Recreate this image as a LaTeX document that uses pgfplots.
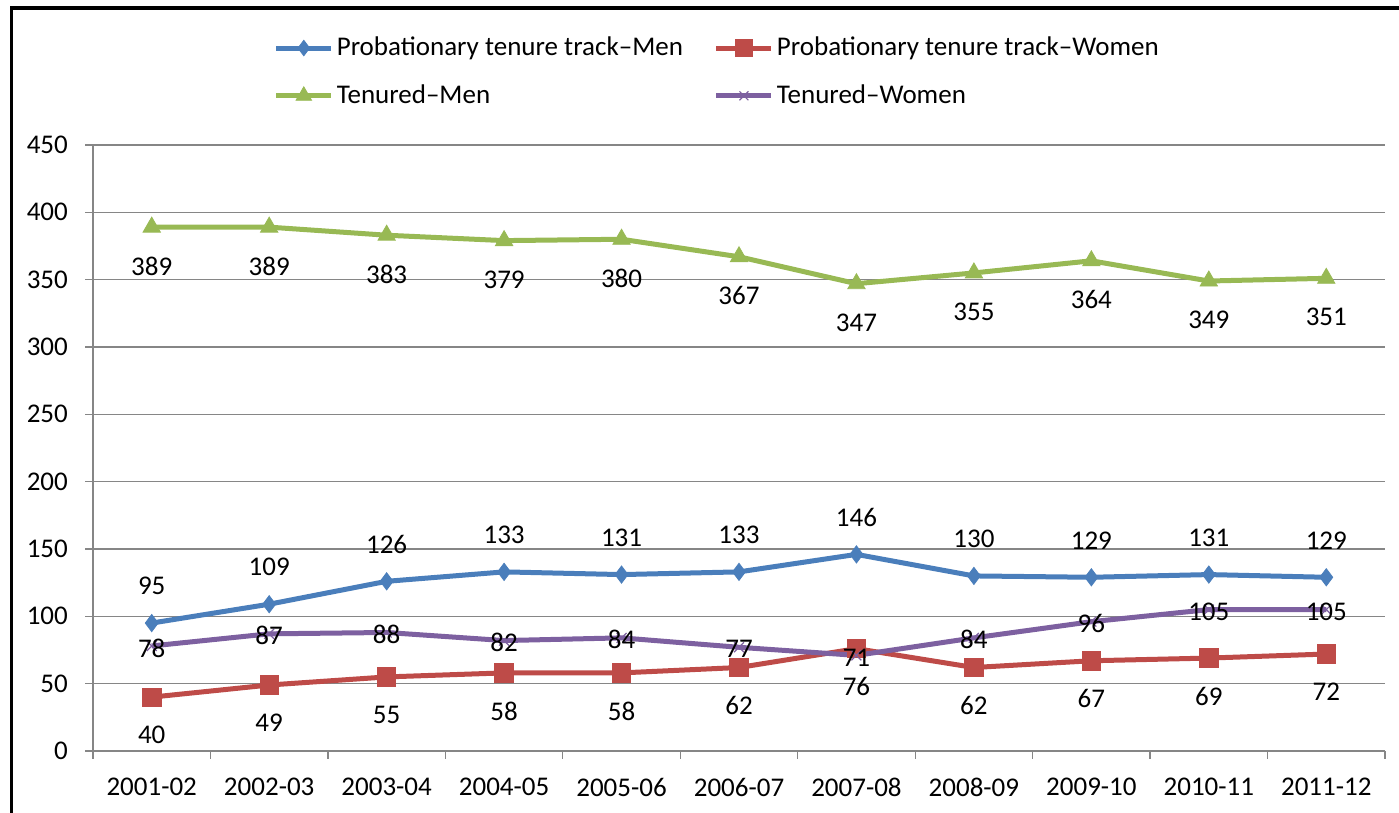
\documentclass[border=0pt]{standalone}
\usepackage{pgfplots}
\pgfplotsset{compat=1.18}
\usepackage{fontspec}
\setmainfont{Carlito}
\definecolor{cblue}{HTML}{4A7EBB}
\definecolor{cred}{HTML}{BE4B48}
\definecolor{cgreen}{HTML}{98B954}
\definecolor{cpurple}{HTML}{7D60A0}
\definecolor{cgrid}{HTML}{868686}
\newcommand{\cf}{\fontsize{13.5}{16}\selectfont}
\begin{document}
\begin{tikzpicture}
\path[use as bounding box] (0,0) rectangle (699.5pt,406.5pt);
\begin{scope}
\clip (0,0) rectangle (699.5pt,406.5pt);
\draw[line width=1.6pt] (5.9pt,-20pt) -- (5.9pt,402.5pt) -- (720pt,402.5pt);
\end{scope}
\begin{axis}[
  at={(46.5pt,31pt)}, anchor=south west,
  scale only axis, width=646pt, height=303pt,
  xmin=-0.5, xmax=10.5, ymin=0, ymax=450,
  axis x line=bottom, axis y line=left,
  axis line style={draw=cgrid, line width=0.6pt, -},
  ytick={0,50,...,450},
  xtick={0,...,10},
  xticklabels={2001-02,2002-03,2003-04,2004-05,2005-06,2006-07,2007-08,2008-09,2009-10,2010-11,2011-12},
  x tick style={draw=none},
  y tick style={draw=cgrid, line width=0.6pt},
  tick align=outside, major tick length=4pt,
  extra x ticks={-0.5,0.5,...,10.5},
  extra x tick labels={},
  extra x tick style={x tick style={draw=cgrid, line width=0.6pt}, major tick length=4pt, tick align=outside},
  ymajorgrids, grid style={draw=cgrid, line width=0.6pt},
  /pgf/number format/assume math mode=true,
  tick label style={font=\cf, text=black},
  xticklabel style={yshift=-5pt},
  yticklabel style={xshift=-4pt},
  line width=2.5pt,
  legend columns=2,
  legend cell align=left,
  legend style={at={(0.138,1.187)}, anchor=north west, draw=none, fill=none, font=\cf,
    row sep=10pt, inner sep=0pt,
    nodes={inner sep=1.5pt},
    /tikz/every even column/.append style={column sep=14pt}},
  legend image code/.code={\draw[mark repeat=2,mark phase=2,#1,every mark/.append style={scale=0.9}] plot coordinates {(0pt,0pt) (13.75pt,0pt) (27.5pt,0pt)};},
  every node near coord/.append style={font=\cf, text=black, anchor=center},
]
\addplot[cblue, mark=diamond*, mark size=4.3pt, mark options={line width=0.4pt, fill=cblue},
  nodes near coords, every node near coord/.append style={yshift=18.5pt}]
  coordinates {(0,95) (1,109) (2,126) (3,133) (4,131) (5,133) (6,146) (7,130) (8,129) (9,131) (10,129)};
\addlegendentry{Probationary tenure track–Men}
\addplot[cred, mark=square*, mark size=4.6pt, mark options={line width=0.4pt, fill=cred},
  nodes near coords, every node near coord/.append style={yshift=-19pt}]
  coordinates {(0,40) (1,49) (2,55) (3,58) (4,58) (5,62) (6,76) (7,62) (8,67) (9,69) (10,72)};
\addlegendentry{Probationary tenure track–Women}
\addplot[cgreen, mark=triangle*, mark size=5pt, mark options={line width=0.4pt, fill=cgreen},
  nodes near coords, every node near coord/.append style={yshift=-19.5pt}]
  coordinates {(0,389) (1,389) (2,383) (3,379) (4,380) (5,367) (6,347) (7,355) (8,364) (9,349) (10,351)};
\addlegendentry{Tenured–Men}
\addplot[cpurple, mark=x, mark size=3.5pt, mark options={line width=0.6pt},
  nodes near coords, every node near coord/.append style={yshift=-1pt}]
  coordinates {(0,78) (1,87) (2,88) (3,82) (4,84) (5,77) (6,71) (7,84) (8,96) (9,105) (10,105)};
\addlegendentry{Tenured–Women}
\end{axis}
\end{tikzpicture}
\end{document}
